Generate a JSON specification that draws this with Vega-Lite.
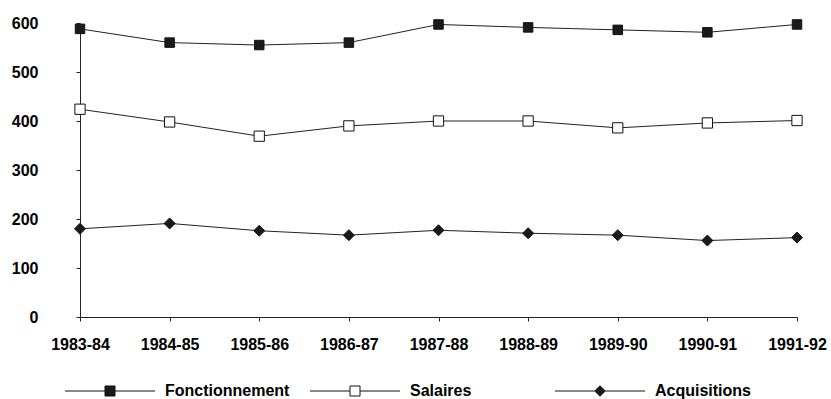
{
  "$schema": "https://vega.github.io/schema/vega-lite/v6.json",
  "width": 717,
  "height": 294,
  "autosize": "none",
  "padding": {"left": 80, "top": 23, "right": 34, "bottom": 82},
  "background": "white",
  "config": {
    "view": {"stroke": null},
    "font": "Liberation Sans",
    "axisY": {"labelPadding": 38, "tickSize": 4, "labelAlign": "right"},
    "axisX": {"labelPadding": 15, "tickSize": 4}
  },
  "data": {
    "values": [
      {"annee": "1983-84", "serie": "Fonctionnement", "valeur": 588},
      {"annee": "1984-85", "serie": "Fonctionnement", "valeur": 560},
      {"annee": "1985-86", "serie": "Fonctionnement", "valeur": 555},
      {"annee": "1986-87", "serie": "Fonctionnement", "valeur": 560},
      {"annee": "1987-88", "serie": "Fonctionnement", "valeur": 597},
      {"annee": "1988-89", "serie": "Fonctionnement", "valeur": 591},
      {"annee": "1989-90", "serie": "Fonctionnement", "valeur": 586},
      {"annee": "1990-91", "serie": "Fonctionnement", "valeur": 581},
      {"annee": "1991-92", "serie": "Fonctionnement", "valeur": 597},
      {"annee": "1983-84", "serie": "Salaires", "valeur": 424},
      {"annee": "1984-85", "serie": "Salaires", "valeur": 398},
      {"annee": "1985-86", "serie": "Salaires", "valeur": 369},
      {"annee": "1986-87", "serie": "Salaires", "valeur": 390},
      {"annee": "1987-88", "serie": "Salaires", "valeur": 400},
      {"annee": "1988-89", "serie": "Salaires", "valeur": 400},
      {"annee": "1989-90", "serie": "Salaires", "valeur": 386},
      {"annee": "1990-91", "serie": "Salaires", "valeur": 396},
      {"annee": "1991-92", "serie": "Salaires", "valeur": 401},
      {"annee": "1983-84", "serie": "Acquisitions", "valeur": 180},
      {"annee": "1984-85", "serie": "Acquisitions", "valeur": 191},
      {"annee": "1985-86", "serie": "Acquisitions", "valeur": 176},
      {"annee": "1986-87", "serie": "Acquisitions", "valeur": 167},
      {"annee": "1987-88", "serie": "Acquisitions", "valeur": 177},
      {"annee": "1988-89", "serie": "Acquisitions", "valeur": 171},
      {"annee": "1989-90", "serie": "Acquisitions", "valeur": 167},
      {"annee": "1990-91", "serie": "Acquisitions", "valeur": 156},
      {"annee": "1991-92", "serie": "Acquisitions", "valeur": 162}
    ]
  },
  "encoding": {
    "x": {
      "field": "annee",
      "type": "ordinal",
      "sort": null,
      "scale": {"type": "point", "padding": 0},
      "axis": {
        "title": null,
        "labelAngle": 0,
        "labelFont": "Liberation Sans",
        "labelFontSize": 16,
        "labelFontWeight": "bold",
        "labelColor": "black",
        "labelPadding": 15,
        "ticks": true,
        "tickSize": 4,
        "tickColor": "#222",
        "domainColor": "#222",
        "grid": false
      }
    },
    "y": {
      "field": "valeur",
      "type": "quantitative",
      "scale": {"domain": [0, 600], "nice": false},
      "axis": {
        "title": null,
        "values": [0, 100, 200, 300, 400, 500, 600],
        "labelFont": "Liberation Sans",
        "labelFontSize": 16,
        "labelFontWeight": "bold",
        "labelColor": "black",
        "labelAlign": "right",
        "labelPadding": 38,
        "ticks": true,
        "tickSize": 4,
        "tickColor": "#222",
        "domainColor": "#222",
        "grid": false
      }
    }
  },
  "resolve": {"scale": {"shape": "independent", "fill": "independent", "size": "independent", "stroke": "independent"}},
  "layer": [
    {
      "mark": {"type": "line", "color": "#222", "strokeWidth": 1},
      "encoding": {"detail": {"field": "serie", "type": "nominal"}}
    },
    {
      "mark": {"type": "point", "filled": true, "stroke": "#111", "strokeWidth": 1, "opacity": 1},
      "encoding": {
        "shape": {
          "field": "serie",
          "type": "nominal",
          "scale": {"domain": ["Fonctionnement", "Salaires", "Acquisitions"], "range": ["square", "square", "diamond"]},
          "legend": null
        },
        "fill": {
          "field": "serie",
          "type": "nominal",
          "scale": {"domain": ["Fonctionnement", "Salaires", "Acquisitions"], "range": ["#1a1a1a", "white", "#1a1a1a"]},
          "legend": null
        },
        "size": {
          "field": "serie",
          "type": "nominal",
          "scale": {"domain": ["Fonctionnement", "Salaires", "Acquisitions"], "range": [90, 121, 64]},
          "legend": null
        }
      }
    },
    {
      "transform": [{"filter": "false"}],
      "mark": {"type": "point", "filled": true, "strokeWidth": 1, "opacity": 1},
      "encoding": {
        "shape": {
          "field": "serie",
          "type": "nominal",
          "scale": {"domain": ["Fonctionnement", "Salaires", "Acquisitions"], "range": ["M-9,0H-1M1,0H9M-1,-1H1V1H-1Z", "M-9,0H-1M1,0H9M-1,-1H1V1H-1Z", "M-9,0H-1.05M1.05,0H9M0,-1.05L1.05,0L0,1.05L-1.05,0Z"]},
          "legend": {
            "title": null,
            "orient": "none",
            "legendX": 22,
            "legendY": 360,
            "direction": "horizontal",
            "symbolSize": 100,
            "symbolStrokeWidth": 1,
            "labelFont": "Liberation Sans",
            "labelFontSize": 16,
            "labelFontWeight": "bold",
            "labelColor": "black",
            "labelOffset": 47,
            "gridAlign": "all",
            "columnPadding": 18,
            "padding": 0
          }
        },
        "fill": {
          "field": "serie",
          "type": "nominal",
          "scale": {"domain": ["Fonctionnement", "Salaires", "Acquisitions"], "range": ["#1a1a1a", "white", "#1a1a1a"]},
          "legend": {
            "title": null,
            "orient": "none",
            "legendX": 22,
            "legendY": 360,
            "direction": "horizontal",
            "symbolSize": 100,
            "symbolStrokeWidth": 1,
            "labelFont": "Liberation Sans",
            "labelFontSize": 16,
            "labelFontWeight": "bold",
            "labelColor": "black",
            "labelOffset": 47,
            "gridAlign": "all",
            "columnPadding": 18,
            "padding": 0
          }
        },
        "stroke": {
          "field": "serie",
          "type": "nominal",
          "scale": {"domain": ["Fonctionnement", "Salaires", "Acquisitions"], "range": ["#111111", "#111111", "#111111"]},
          "legend": {
            "title": null,
            "orient": "none",
            "legendX": 22,
            "legendY": 360,
            "direction": "horizontal",
            "symbolSize": 100,
            "symbolStrokeWidth": 1,
            "labelFont": "Liberation Sans",
            "labelFontSize": 16,
            "labelFontWeight": "bold",
            "labelColor": "black",
            "labelOffset": 47,
            "gridAlign": "all",
            "columnPadding": 18,
            "padding": 0
          }
        }
      }
    }
  ]
}
